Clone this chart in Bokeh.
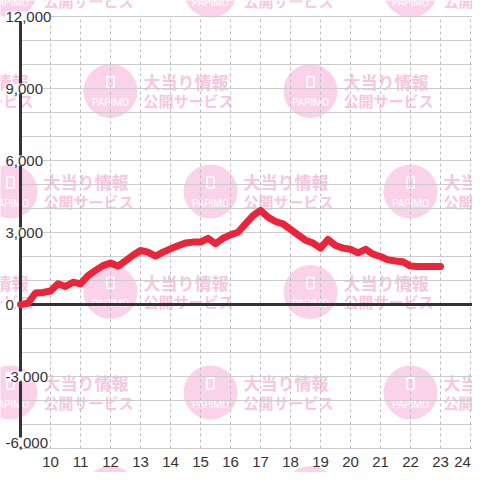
from bokeh.plotting import figure
from bokeh.models import Range1d, ColumnDataSource
from bokeh.core.properties import value
from bokeh.embed import file_html
from bokeh.resources import INLINE

# ---------------- data ----------------
times = [9.0, 9.25, 9.5, 9.75, 10.0, 10.25, 10.5, 10.75, 11.0, 11.25, 11.5, 11.75,
         12.0, 12.25, 12.5, 12.75, 13.0, 13.25, 13.5, 13.75, 14.0, 14.25, 14.5, 14.75,
         15.0, 15.25, 15.5, 15.75, 16.0, 16.25, 16.5, 16.75, 17.0, 17.25, 17.5, 17.75,
         18.0, 18.25, 18.5, 18.75, 19.0, 19.25, 19.5, 19.75, 20.0, 20.25, 20.5, 20.75,
         21.0, 21.25, 21.5, 21.75, 22.0, 22.25, 22.5, 22.75, 23.0]
balance = [0, 50, 480, 500, 560, 860, 750, 930, 860, 1200, 1420, 1620,
           1730, 1600, 1820, 2050, 2250, 2180, 2020, 2180, 2320, 2450, 2560, 2600,
           2600, 2760, 2530, 2760, 2900, 3010, 3360, 3700, 3920, 3640, 3460, 3360,
           3130, 2900, 2680, 2560, 2350, 2710, 2460, 2350, 2300, 2150, 2300, 2100,
           2000, 1860, 1810, 1780, 1600, 1580, 1580, 1580, 1580]

hour_ticks = [10, 11, 12, 13, 14, 15, 16, 17, 18, 19, 20, 21, 22, 23, 24]
hour_labels = ["10", "11", "12", "13", "14", "15", "16", "17", "18", "19", "20", "21", "22", "23", "24"]
y_ticks = [-6000, -3000, 0, 3000, 6000, 9000, 12000]
y_tick_labels = ["-6,000", "-3,000", "0", "3,000", "6,000", "9,000", "12,000"]
grid_levels = [-6000, -5000, -4000, -3000, -2000, -1000, 0, 1000, 2000, 3000, 4000,
               5000, 6000, 7000, 8000, 9000, 10000, 11000, 12000]
x_start, y_min, y_max = 9.0, -6000, 12000

wm_line1 = "大当り情報"
wm_line2 = "公開サービス"
wm_logo = "PAPIMO"

# ---------------- layout helpers (pixel -> data) ----------------
PX_X0, PX_PER_H = 20, 30.0
PX_Y0, PX_PER_K = 304, 24.0
OFF = 0
W = H = 472


def hx(px):
    return x_start + (px - PX_X0) / PX_PER_H


def vy(py):
    return (PX_Y0 - py) * 1000.0 / PX_PER_K


p = figure(width=W, height=H, output_backend="svg", toolbar_location=None,
           x_range=Range1d(hx(OFF), hx(OFF + W)), y_range=Range1d(vy(OFF + H), vy(OFF)),
           x_axis_location=None, y_axis_location=None,
           min_border_left=0, min_border_right=0, min_border_top=0, min_border_bottom=0)
p.xgrid.visible = False
p.ygrid.visible = False
p.outline_line_color = None
p.background_fill_color = "white"
p.border_fill_color = "white"

# ---------------- watermark pattern ----------------
PINK_C = "#fad3ea"
PINK_T = "#f7c6e1"
rows_py = [-10, 90.5, 191, 291.5, 392, 492.5]
cx, cy = [], []
for k, py in enumerate(rows_py):
    cols = [10, 210, 410] if k % 2 == 0 else [-90, 110, 310, 510]
    for px in cols:
        cx.append(px)
        cy.append(py)

wm = ColumnDataSource(dict(
    x=[hx(px) for px in cx], y=[vy(py) for py in cy],
    phone_y=[vy(py - 9) for py in cy], logo_y=[vy(py + 11.5) for py in cy],
    tx=[hx(px + 33) for px in cx], t1y=[vy(py - 10) for py in cy], t2y=[vy(py + 9.5) for py in cy],
    t1=[wm_line1] * len(cx), t2=[wm_line2] * len(cx), logo=[wm_logo] * len(cx)))
p.scatter("x", "y", source=wm, size=54, fill_color=PINK_C, line_color=None)
p.rect("x", "phone_y", source=wm, width=7, height=11, width_units="screen", height_units="screen",
       fill_color=None, line_color="white", line_width=1.5)
p.text("x", "logo_y", text="logo", source=wm, text_color="white", text_font=value("Roboto"),
       text_font_size="10px", text_align="center", text_baseline="middle")
p.text("tx", "t1y", text="t1", source=wm, text_color=PINK_T, text_font=value("Noto Sans CJK JP"),
       text_font_style="bold", text_font_size="17px", text_align="left", text_baseline="middle")
p.text("tx", "t2y", text="t2", source=wm, text_color=PINK_T, text_font=value("Noto Sans CJK JP"),
       text_font_style="bold", text_font_size="15px", text_align="left", text_baseline="middle")

# ---------------- grid ----------------
x_right = hx(OFF + W)
p.segment(x0=[x_start] * len(grid_levels), y0=grid_levels, x1=[x_right] * len(grid_levels), y1=grid_levels,
          line_color="#cccccc", line_width=1.2)
p.segment(x0=hour_ticks, y0=[y_min] * len(hour_ticks), x1=hour_ticks, y1=[y_max] * len(hour_ticks),
          line_color="#bdbdbd", line_width=1, line_dash="3 3")

# axis & zero line
p.segment(x0=[x_start], y0=[y_min], x1=[x_start], y1=[y_max], line_color="#333333", line_width=3)
p.segment(x0=[x_start], y0=[0], x1=[x_right], y1=[0], line_color="#333333", line_width=3)

# ---------------- data line ----------------
p.line(times, balance, line_color="#eb2439", line_width=7, line_join="round", line_cap="round")

# ---------------- tick labels ----------------
lab_y = [max(v, vy(442)) for v in y_ticks]
p.text(x=[hx(5)] * len(y_ticks), y=lab_y, text=y_tick_labels, text_color="#333333",
       text_font=value("Liberation Sans"), text_font_size="15px", text_align="left",
       text_baseline="middle", background_fill_color="white")
# keep the last hour label fully inside the canvas
lab_x = [min(h, hx(W - 10)) for h in hour_ticks]
p.text(x=lab_x, y=[vy(461)] * len(hour_ticks), text=hour_labels, text_color="#333333",
       text_font=value("Liberation Sans"), text_font_size="15px", text_align="center",
       text_baseline="middle")

open("out.html", "w").write(file_html(p, INLINE))
